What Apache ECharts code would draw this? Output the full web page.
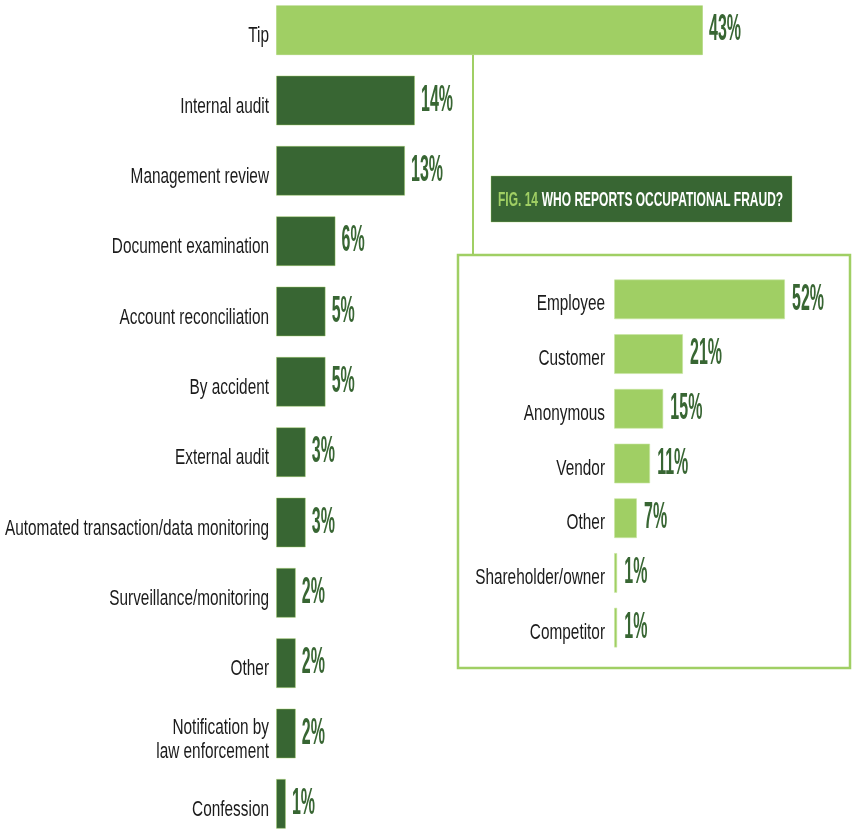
<!DOCTYPE html>
<html>
<head>
<meta charset="utf-8">
<script src="https://cdn.jsdelivr.net/npm/echarts@6/dist/echarts.min.js"></script>
<style>
  html, body { margin: 0; padding: 0; background: #ffffff; }
  #chart { width: 852px; height: 829px; }
</style>
</head>
<body>
<div id="chart"></div>
<script>
// How fraud is initially detected (%)
const detectionCategories = [
  'Tip', 'Internal audit', 'Management review', 'Document examination',
  'Account reconciliation', 'By accident', 'External audit',
  'Automated transaction/data monitoring', 'Surveillance/monitoring',
  'Other', 'Notification by\nlaw enforcement', 'Confession'
];
const detectionValues = [43, 14, 13, 6, 5, 5, 3, 3, 2, 2, 2, 1];

// Who reports occupational fraud (% of tips)
const reporterCategories = [
  'Employee', 'Customer', 'Anonymous', 'Vendor', 'Other',
  'Shareholder/owner', 'Competitor'
];
const reporterValues = [52, 21, 15, 11, 7, 1, 1];

const figureNumber = 'FIG. 14';
const figureTitle = 'WHO REPORTS OCCUPATIONAL FRAUD?';

const DARK = '#386633';
const LIGHT = '#a0cf64';
const FAMILY = '"Liberation Sans", Arial, sans-serif';
const CAT_FONT = '22px ' + FAMILY;
const VAL_FONT = 'bold 37px ' + FAMILY;
const BANNER_FONT = 'bold 21px ' + FAMILY;

// The typeface of this figure is an extra-condensed grotesque; a regular
// sans is squeezed horizontally to the same proportions.
const measureCtx = document.createElement('canvas').getContext('2d');
function textWidth(font, text) {
  measureCtx.font = font;
  return measureCtx.measureText(text).width;
}
const CAT_SCALE = 264 / textWidth(CAT_FONT, 'Automated transaction/data monitoring');
const VAL_SCALE = 32 / textWidth(VAL_FONT, '14%');
const BANNER_SCALE = 288 / textWidth(BANNER_FONT, figureNumber + '  ' + figureTitle);

// Percentage label just past the end of each bar
function valueLabel(gap) {
  return function (params, api) {
    const v = api.value(0);
    const pt = api.coord([v, api.value(1)]);
    return {
      type: 'text',
      x: pt[0] + gap,
      y: pt[1],
      scaleX: VAL_SCALE,
      style: {
        text: v + '%',
        font: VAL_FONT,
        fill: DARK,
        align: 'left',
        verticalAlign: 'middle'
      }
    };
  };
}

// Category name to the left of the bar baseline
function categoryLabel(names, gap, dy) {
  return function (params, api) {
    const idx = api.value(1);
    const pt = api.coord([0, idx]);
    return {
      type: 'text',
      x: pt[0] - gap,
      y: pt[1] + dy,
      scaleX: CAT_SCALE,
      style: {
        text: names[idx],
        font: CAT_FONT,
        lineHeight: 24,
        fill: '#1b1b1b',
        align: 'right',
        verticalAlign: 'middle'
      }
    };
  };
}

const chart = echarts.init(document.getElementById('chart'), null, { renderer: 'canvas' });

const hiddenCategoryAxis = {
  type: 'category', inverse: true,
  axisLine: { show: false }, axisTick: { show: false },
  axisLabel: { show: false }, splitLine: { show: false }
};

const option = {
  animation: false,
  backgroundColor: '#ffffff',
  grid: [
    { left: 276, top: -5, width: 496.5, height: 844, outerBoundsMode: 'none', containLabel: false },
    { left: 614, top: 272, width: 197.4, height: 383, outerBoundsMode: 'none', containLabel: false }
  ],
  xAxis: [
    { type: 'value', gridIndex: 0, min: 0, max: 50, show: false },
    { type: 'value', gridIndex: 1, min: 0, max: 60, show: false }
  ],
  yAxis: [
    Object.assign({ gridIndex: 0, data: detectionCategories }, hiddenCategoryAxis),
    Object.assign({ gridIndex: 1, data: reporterCategories }, hiddenCategoryAxis)
  ],
  series: [
    {
      type: 'bar', xAxisIndex: 0, yAxisIndex: 0, barWidth: 50,
      data: detectionValues.map((v, i) => ({
        value: v,
        itemStyle: { color: i === 0 ? LIGHT : DARK }
      })),
      itemStyle: { borderColor: 'rgba(160,207,100,0.45)', borderWidth: 1 }
    },
    {
      type: 'custom', xAxisIndex: 0, yAxisIndex: 0,
      data: detectionValues.map((v, i) => [v, i]),
      encode: { x: 0, y: 1 },
      renderItem: valueLabel(6),
      z: 5
    },
    {
      type: 'custom', xAxisIndex: 0, yAxisIndex: 0,
      data: detectionValues.map((v, i) => [v, i]),
      encode: { x: 0, y: 1 },
      renderItem: categoryLabel(detectionCategories, 7, 6),
      z: 5
    },
    {
      type: 'bar', xAxisIndex: 1, yAxisIndex: 1, barWidth: 40,
      data: reporterValues,
      itemStyle: { color: LIGHT, borderColor: 'rgba(200,230,160,0.6)', borderWidth: 1 }
    },
    {
      type: 'custom', xAxisIndex: 1, yAxisIndex: 1,
      data: reporterValues.map((v, i) => [v, i]),
      encode: { x: 0, y: 1 },
      renderItem: valueLabel(7),
      z: 5
    },
    {
      type: 'custom', xAxisIndex: 1, yAxisIndex: 1,
      data: reporterValues.map((v, i) => [v, i]),
      encode: { x: 0, y: 1 },
      renderItem: categoryLabel(reporterCategories, 9, 5),
      z: 5
    }
  ],
  graphic: [
    // connector from the Tip bar down to the inset panel
    {
      type: 'line', z: -1,
      shape: { x1: 473, y1: 55, x2: 473, y2: 255 },
      style: { stroke: LIGHT, lineWidth: 2 }
    },
    // inset panel frame
    {
      type: 'rect', z: -1,
      shape: { x: 458, y: 255, width: 392, height: 413 },
      style: { fill: 'none', stroke: LIGHT, lineWidth: 2.5 }
    },
    // figure banner
    {
      type: 'rect', z: 2,
      shape: { x: 491, y: 176, width: 301, height: 46 },
      style: { fill: DARK, stroke: 'rgba(160,207,100,0.35)', lineWidth: 1 }
    },
    {
      type: 'text', z: 3,
      x: 498, y: 200, scaleX: BANNER_SCALE,
      style: {
        text: '{n|' + figureNumber + '}  {t|' + figureTitle + '}',
        verticalAlign: 'middle',
        rich: {
          n: { font: BANNER_FONT, fill: LIGHT },
          t: { font: BANNER_FONT, fill: '#ffffff' }
        }
      }
    }
  ]
};

chart.setOption(option);
</script>
</body>
</html>
